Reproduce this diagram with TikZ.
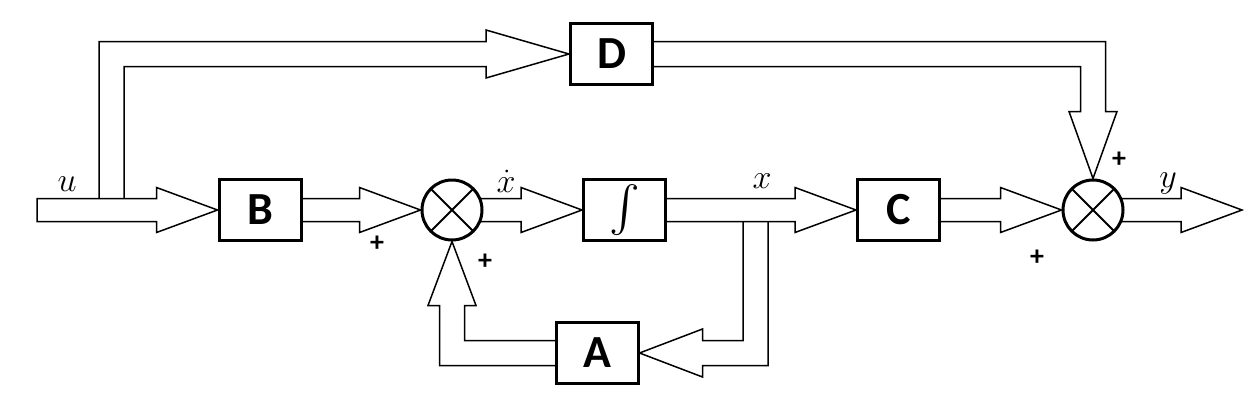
\documentclass[tikz,border=0pt]{standalone}
\usepackage{amsmath}
\usepackage{graphicx}
\usepackage{fontspec}
\setsansfont{Carlito}
\usepackage{tikz}
\usetikzlibrary{calc}
\usetikzlibrary{backgrounds}
% sizes of the wide arrows
\newcommand{\shaftw}{11.5pt}
\newcommand{\headw}{22.5pt}
\newcommand{\headl}{61pt}
% straight wide arrow, drawn at the height of its target
\newcommand{\widearrow}[2]{%
  \draw[hollow] let \p1=(#1), \p2=(#2) in
    (\x1,\y2+\shaftw) -- (\x2-\headl,\y2+\shaftw) -- (\x2-\headl,\y2+\headw)
    -- (\x2,\y2) -- (\x2-\headl,\y2-\headw) -- (\x2-\headl,\y2-\shaftw)
    -- (\x1,\y2-\shaftw) -- cycle;
}
% big math labels
\newcommand{\bigmath}[2]{\scalebox{#1}{\Huge$#2$}}
\tikzset {
  % system blocks
  block/.style = {draw, line width=3pt, fill=white, minimum width=82pt,
    minimum height=61pt, inner sep=0pt,
    font=\sffamily\bfseries\fontsize{46}{50}\selectfont},
  % summing junctions
  junction/.style = {draw, circle, line width=3pt, fill=white,
    minimum size=60pt, inner sep=0pt,
    path picture={\draw[line width=2pt]
      (path picture bounding box.north west) -- (path picture bounding box.south east)
      (path picture bounding box.north east) -- (path picture bounding box.south west);}},
  % the hollow arrows
  hollow/.style = {draw, fill=white, line width=1.5pt},
  signlbl/.style = {font=\sffamily\bfseries\fontsize{28}{30}\selectfont},
  lbl/.style = {anchor=base},
}

\begin{document}
\begin{tikzpicture}[x=1pt, y=-1pt]
  \useasboundingbox (0,0) rectangle (1250,410);

  \node[block] (B) at (260,210) {B};
  \node[junction] (S1) at (452,210) {};
  \node[block] (I) at (624.5,210) {\bigmath{1.85}{\int}};
  \node[block] (C) at (898.5,210) {C};
  \node[junction] (S2) at (1093,210) {};
  \node[block] (D) at (611.5,54) {D};
  \node[block] (A) at (597,353) {A};

  \coordinate (uin) at (37,210);
  \coordinate (yout) at (1242,210);
  \coordinate (tap1) at (111.5,198.5);
  \coordinate (tap2) at (755.5,221.5);

  \begin{pgfonlayer}{background}
    % feedthrough u -> D -> sum
    \draw[hollow] let \p1=(tap1), \p2=(D.west) in
      (\x1-12.5pt,\y1) -- (\x1-12.5pt,\y2+12.5pt) -- (\x2-83pt,\y2+12.5pt)
      -- (\x2-83pt,\y2+24pt) -- (\x2,\y2) -- (\x2-83pt,\y2-24pt)
      -- (\x2-83pt,\y2-12.5pt) -- (\x1+12.5pt,\y2-12.5pt) -- (\x1+12.5pt,\y1);
    \draw[hollow] let \p1=(D), \p2=(S2.north) in
      (\x1,\y1+12.5pt) -- (\x2+12.5pt,\y1+12.5pt) -- (\x2+12.5pt,\y2+67pt)
      -- (\x2+24pt,\y2+67pt) -- (\x2,\y2) -- (\x2-24pt,\y2+67pt)
      -- (\x2-12.5pt,\y2+67pt) -- (\x2-12.5pt,\y1-12.5pt) -- (\x1,\y1-12.5pt) -- cycle;
    % feedback x -> A -> sum
    \draw[hollow] let \p1=(tap2), \p2=(A.east) in
      (\x1+12.5pt,\y1) -- (\x1+12.5pt,\y2-12.5pt) -- (\x2+63pt,\y2-12.5pt)
      -- (\x2+63pt,\y2-24pt) -- (\x2,\y2) -- (\x2+63pt,\y2+24pt)
      -- (\x2+63pt,\y2+12.5pt) -- (\x1-12.5pt,\y2+12.5pt) -- (\x1-12.5pt,\y1);
    \draw[hollow] let \p1=(A), \p2=(S1.south) in
      (\x1,\y1+12.5pt) -- (\x2+12.5pt,\y1+12.5pt) -- (\x2+12.5pt,\y2-64pt)
      -- (\x2+24pt,\y2-64pt) -- (\x2,\y2) -- (\x2-24pt,\y2-64pt)
      -- (\x2-12.5pt,\y2-64pt) -- (\x2-12.5pt,\y1-12.5pt) -- (\x1,\y1-12.5pt) -- cycle;

    % main path
    \widearrow{uin}{B.west}
    \widearrow{B}{S1.west}
    \widearrow{S1}{I.west}
    \widearrow{I}{C.west}
    \widearrow{C}{S2.west}
    \widearrow{S2}{yout}
  \end{pgfonlayer}

  \node[lbl] (ulbl) at (67,191) {\bigmath{1.37}{u}};
  \node[lbl] (xdotlbl) at (506,192) {\bigmath{1.37}{\dot{x}}};
  \node[lbl] (xlbl) at (762,188) {\bigmath{1.37}{x}};
  \node[lbl] (ylbl) at (1168,187) {\bigmath{1.37}{y}};

  \node[signlbl] (p1) at (377,244) {+};
  \node[signlbl] (p2) at (485,262) {+};
  \node[signlbl] (p3) at (1119,160) {+};
  \node[signlbl] (p4) at (1037,258) {+};
\end{tikzpicture}
\end{document}
